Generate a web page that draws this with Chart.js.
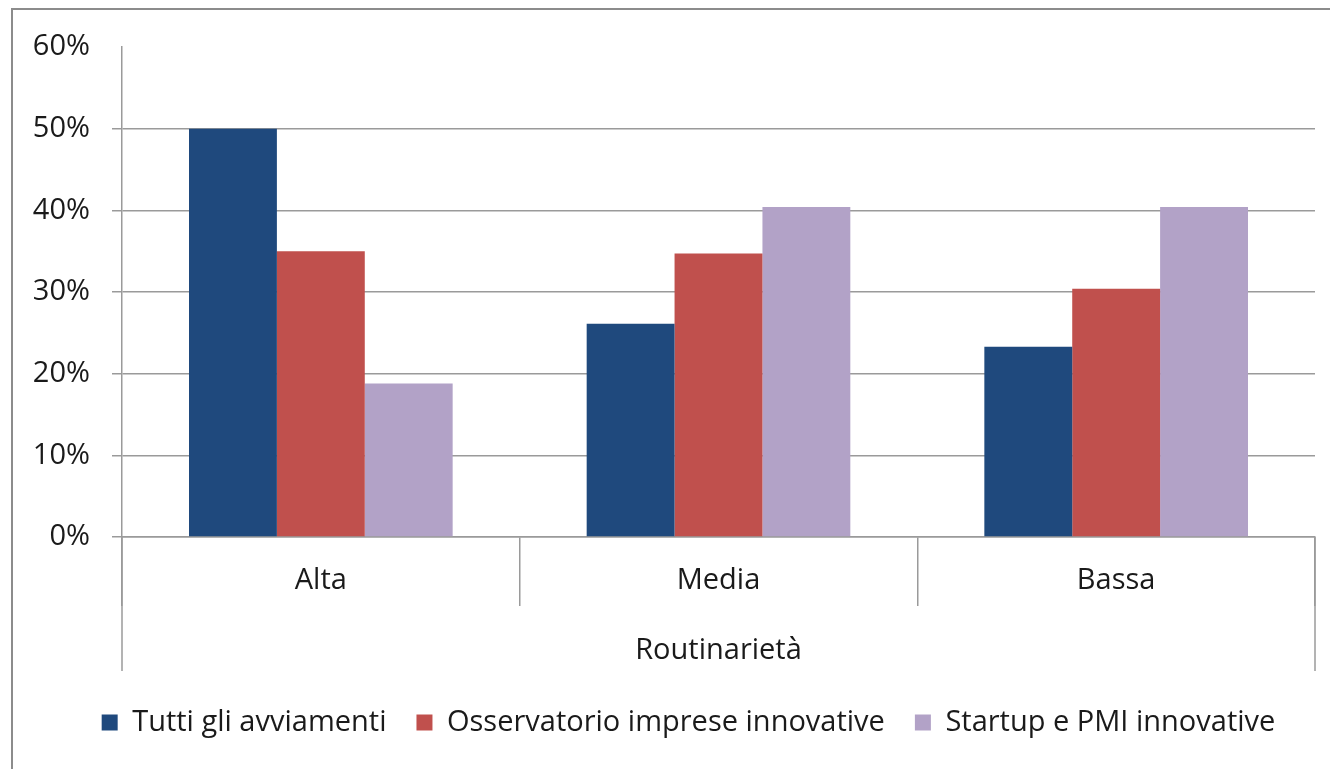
<!DOCTYPE html>
<html>
<head>
<meta charset="utf-8">
<script src="https://cdn.jsdelivr.net/npm/chart.js@4.4.1/dist/chart.umd.min.js"></script>
<style>
  body { margin: 0; background: #fff; }
  #frame { position: absolute; left: 11px; top: 8px; width: 1340px; height: 780px; border: 2px solid #8c8c8c; box-sizing: border-box; }
  #wrap { position: absolute; left: 0; top: 0; width: 1330px; height: 769px; }
</style>
</head>
<body>
<div id="frame"></div>
<div id="wrap"><canvas id="barChart" width="1330" height="769"></canvas></div>
<script>
// Dati
const categorie = ["Alta", "Media", "Bassa"];
const tuttiAvviamenti = [50.0, 26.1, 23.3];
const osservatorio = [35.0, 34.7, 30.4];
const startupPmi = [18.8, 40.4, 40.4];
const tickValori = [0, 10, 20, 30, 40, 50, 60];

const fontBase = { family: "'Open Sans', sans-serif", size: 29 };
const lineaGrigia = "#9a9a9a";

// linee esterne dell'asse a due livelli + legenda spostata come nell'originale
const lineeEsterne = {
    id: "lineeEsterne",
    afterLayout(chart) {
        chart.legend.left += 31;
        chart.legend.right += 31;
    },
    afterDraw(chart) {
        const ctx = chart.ctx;
        const area = chart.chartArea;
        ctx.save();
        ctx.strokeStyle = lineaGrigia;
        ctx.lineWidth = 1.5;
        [area.left, area.right].forEach(x => {
            ctx.beginPath();
            ctx.moveTo(x, area.bottom);
            ctx.lineTo(x, area.bottom + 134);
            ctx.stroke();
        });
        ctx.restore();
    }
};

const ctx = document.getElementById("barChart").getContext("2d");
new Chart(ctx, {
    type: "bar",
    data: {
        labels: categorie,
        datasets: [
            { label: "Tutti gli avviamenti", data: tuttiAvviamenti, backgroundColor: "#1f497d" },
            { label: "Osservatorio imprese innovative", data: osservatorio, backgroundColor: "#c0504d" },
            { label: "Startup e PMI innovative", data: startupPmi, backgroundColor: "#b2a2c7" }
        ]
    },
    options: {
        responsive: false,
        animation: false,
        datasets: { bar: { barPercentage: 1, categoryPercentage: 0.663 } },
        layout: { padding: { left: 0, right: 15, top: 47, bottom: 22 } },
        scales: {
            x: {
                grid: {
                    offset: true,
                    drawOnChartArea: false,
                    tickLength: 69,
                    color: lineaGrigia,
                    lineWidth: 1.5
                },
                border: { color: lineaGrigia, width: 1.5 },
                ticks: { font: fontBase, color: "#1a1a1a", padding: -43 },
                title: { display: true, text: "Routinarietà", font: fontBase, color: "#1a1a1a", padding: { top: 0, bottom: 10 } },
                afterFit(scale) { scale.height = 141; }
            },
            y: {
                min: 0,
                max: 60,
                afterBuildTicks(scale) { scale.ticks = tickValori.map(v => ({ value: v })); },
                grid: {
                    color: c => c.tick && c.tick.value === 60 ? "rgba(0,0,0,0)" : lineaGrigia,
                    lineWidth: 1.5,
                    tickLength: 10
                },
                border: { color: lineaGrigia, width: 1.5 },
                ticks: { font: fontBase, color: "#1a1a1a", padding: 22, callback: v => v + "%" },
                afterFit(scale) { scale.width = 122; }
            }
        },
        plugins: {
            legend: {
                position: "bottom",
                labels: { font: fontBase, color: "#1a1a1a", boxWidth: 16, boxHeight: 16, padding: 30 }
            },
            tooltip: { enabled: false }
        }
    },
    plugins: [lineeEsterne]
});
</script>
</body>
</html>
